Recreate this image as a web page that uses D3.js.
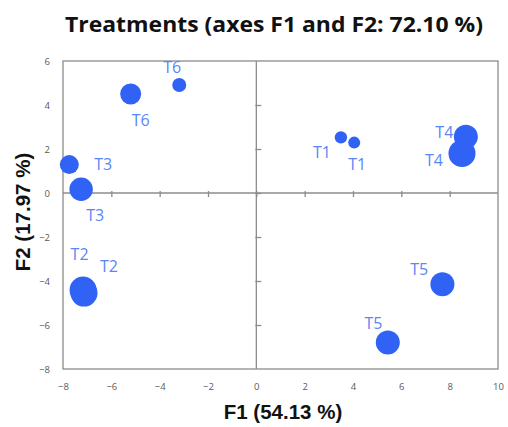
<!DOCTYPE html>
<html>
<head>
<meta charset="utf-8">
<script src="https://cdn.jsdelivr.net/npm/d3@7"></script>
<style>
  html, body { margin: 0; padding: 0; background: #fff; }
  svg { display: block; }
</style>
</head>
<body>
<svg id="chart" width="508" height="427"></svg>
<script>
// Treatment scores on the first two factorial axes
const labels = ["T1", "T1", "T2", "T2", "T3", "T3", "T4", "T4", "T5", "T5", "T6", "T6"];
const f1 = [3.50, 4.05, -7.17, -7.13, -7.74, -7.25, 8.67, 8.51, 7.70, 5.44, -3.19, -5.20];
const f2 = [2.53, 2.29, -4.41, -4.55, 1.29, 0.17, 2.56, 1.80, -4.15, -6.80, 4.91, 4.50];

// Axis ticks
const xTicks = [-8, -6, -4, -2, 0, 2, 4, 6, 8, 10];
const yTicks = [-8, -6, -4, -2, 0, 2, 4, 6];

// Marker sizes and label placement (pixel offsets from each marker)
const markerRadius = [6.2, 6, 13.5, 13.5, 9.5, 11.7, 12, 13.5, 12, 12, 7, 10.5];
const labelOffset = [[-19, 15], [3, 21], [-3.5, -36], [25, -27.5], [34, -1], [14, 26], [-21.5, -4.5], [-28, 6.7], [-23.3, -15.3], [-14.3, -19.3], [-7, -18], [10, 26]];

const svg = d3.select("#chart");
const plotLeft = 63, plotRight = 498, plotTop = 61, plotBottom = 369;

const x = d3.scaleLinear().domain([-8, 10]).range([plotLeft, plotRight]);
const y = d3.scaleLinear().domain([-8, 6]).range([plotBottom, plotTop]);

const grey = "#8c8c8c";
const tickText = "#595959";

// Title
svg.append("text")
  .attr("x", 274).attr("y", 32)
  .attr("text-anchor", "middle")
  .attr("font-family", "'Open Sans', sans-serif")
  .attr("font-weight", "bold")
  .attr("font-size", 21.5)
  .attr("textLength", 418)
  .attr("lengthAdjust", "spacingAndGlyphs")
  .attr("fill", "#111")
  .text("Treatments (axes F1 and F2: 72.10 %)");

// Plot frame
svg.append("rect")
  .attr("x", plotLeft).attr("y", plotTop)
  .attr("width", plotRight - plotLeft).attr("height", plotBottom - plotTop)
  .attr("fill", "none").attr("stroke", grey).attr("stroke-width", 1.3);

// Tick labels along the frame edges
svg.append("g")
  .attr("transform", `translate(0,${plotBottom})`)
  .call(d3.axisBottom(x).tickValues(xTicks).tickSize(0).tickPadding(14).tickFormat(d3.format("d")))
  .call(g => g.select(".domain").remove())
  .call(g => g.selectAll("text").attr("fill", tickText).attr("font-size", 9.5)
    .attr("font-family", "'Open Sans', sans-serif"));

svg.append("g")
  .attr("transform", `translate(${plotLeft},0)`)
  .call(d3.axisLeft(y).tickValues(yTicks).tickSize(0).tickPadding(13).tickFormat(d3.format("d")))
  .call(g => g.select(".domain").remove())
  .call(g => g.selectAll("text").attr("fill", tickText).attr("font-size", 9.5)
    .attr("font-family", "'Open Sans', sans-serif"));

// Axes crossing at the origin, with their own tick marks
const xZero = svg.append("g").attr("transform", `translate(0,${y(0)})`)
  .call(d3.axisBottom(x).tickValues(xTicks.filter(v => v > -8 && v < 10)).tickSize(4).tickFormat(""));
xZero.select(".domain").attr("d", `M${plotLeft},0H${plotRight}`);
xZero.selectAll("line").attr("y1", -2);

const yZero = svg.append("g").attr("transform", `translate(${x(0)},0)`)
  .call(d3.axisRight(y).tickValues(yTicks.filter(v => v > -8 && v < 6)).tickSize(5).tickFormat(""));
yZero.select(".domain").attr("d", `M0,${plotTop}V${plotBottom}`);
yZero.selectAll("line").attr("x1", -1);

svg.selectAll(".domain, .tick line").attr("stroke", grey).attr("stroke-width", 1.3);

// Axis titles
svg.append("text")
  .attr("x", 283).attr("y", 419)
  .attr("text-anchor", "middle")
  .attr("font-family", "'Liberation Sans', Arial, sans-serif")
  .attr("font-weight", "bold").attr("font-size", 20.5)
  .attr("fill", "#111")
  .text("F1 (54.13 %)");

svg.append("text")
  .attr("transform", "translate(30,212) rotate(-90)")
  .attr("text-anchor", "middle")
  .attr("font-family", "'Liberation Sans', Arial, sans-serif")
  .attr("font-weight", "bold").attr("font-size", 20.5)
  .attr("fill", "#111")
  .text("F2 (17.97 %)");

// Observations
const pts = labels.map((l, i) => ({ label: l, f1: f1[i], f2: f2[i], r: markerRadius[i], off: labelOffset[i] }));

svg.append("g").selectAll("circle")
  .data(pts).join("circle")
  .attr("cx", d => x(d.f1)).attr("cy", d => y(d.f2))
  .attr("r", d => d.r)
  .attr("fill", "#2f62f5");

svg.append("g").selectAll("text")
  .data(pts).join("text")
  .attr("x", d => x(d.f1) + d.off[0])
  .attr("y", d => y(d.f2) + d.off[1])
  .attr("text-anchor", "middle")
  .attr("dominant-baseline", "central")
  .attr("font-family", "'Open Sans', sans-serif")
  .attr("font-size", 16)
  .attr("fill", "#5a86f7")
  .text(d => d.label);
</script>
</body>
</html>
